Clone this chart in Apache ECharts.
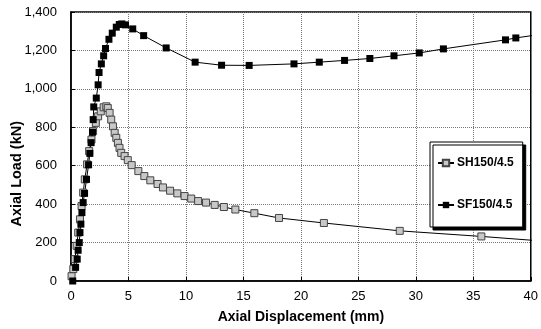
<!DOCTYPE html>
<html>
<head>
<meta charset="utf-8">
<script src="https://cdn.jsdelivr.net/npm/echarts@6/dist/echarts.min.js"></script>
<style>
html,body{margin:0;padding:0;background:#fff;}
#c{width:541px;height:329px;}
</style>
</head>
<body>
<div id="c"></div>
<script>
// Axial displacement (mm), axial load (kN)
var shDisp = [0.05,0.2,0.34,0.49,0.63,0.78,0.92,1.06,1.2,1.4,1.58,1.78,1.92,2.16,2.36,2.59,2.84,3.07,3.2,3.36,3.5,3.65,3.8,3.94,4.08,4.22,4.37,4.66,4.94,5.28,5.86,6.38,6.9,7.53,8.0,8.62,9.25,9.88,10.46,11.06,11.75,12.5,13.3,14.3,15.95,18.1,22.0,28.6,35.7,41];
var shLoad = [25,62,114,183,252,321,390,460,529,607,676,736,780,823,857,883,904,909,900,875,840,805,771,745,719,693,667,650,629,603,572,546,524,505,487,470,456,442,429,416,408,396,385,372,353,328,302,261,232,208];
var sfDisp = [0.15,0.4,0.54,0.62,0.72,0.78,0.86,0.95,1.06,1.18,1.35,1.53,1.64,1.75,1.87,1.93,1.98,2.2,2.36,2.44,2.64,2.84,3.0,3.3,3.59,3.94,4.2,4.42,4.74,5.37,6.32,8.28,10.8,13.1,15.5,19.4,21.6,23.8,26.0,28.1,30.3,32.4,37.8,38.7,41];
var sfLoad = [0,71,114,160,200,252,296,356,408,456,529,605,664,720,774,840,906,952,1021,1085,1130,1172,1210,1258,1290,1321,1335,1338,1333,1312,1277,1213,1139,1123,1122,1130,1139,1148,1158,1172,1187,1208,1255,1265,1285];
var seriesNames = ['SH150/4.5','SF150/4.5'];
var xTicks = {min:0,max:40,interval:5};
var yTicks = {min:0,max:1400,interval:200};

function zip(a,b){return a.map(function(v,i){return [v,b[i]];});}

var chart = echarts.init(document.getElementById('c'), null, {renderer:'canvas'});
var font = 'Arial, "Liberation Sans", sans-serif';
chart.setOption({
  animation:false,
  backgroundColor:'#fff',
  grid:{left:71,right:6,top:12,bottom:47,show:true,borderColor:'#000',borderWidth:1.5,backgroundColor:'transparent'},
  xAxis:{
    type:'value',min:xTicks.min,max:xTicks.max,interval:xTicks.interval,
    name:'Axial Displacement (mm)',nameLocation:'middle',nameGap:29,
    nameTextStyle:{fontFamily:font,fontWeight:'bold',fontSize:14,color:'#000'},
    axisLine:{show:true,lineStyle:{color:'#000',width:1.5}},
    axisTick:{show:true,inside:true,length:4,lineStyle:{color:'#000',width:1}},
    axisLabel:{fontFamily:font,fontSize:13,color:'#000',margin:9},
    splitLine:{show:true,lineStyle:{color:'#777',type:[1,1],width:1}}
  },
  yAxis:{
    type:'value',min:yTicks.min,max:yTicks.max,interval:yTicks.interval,
    axisLine:{show:true,lineStyle:{color:'#000',width:1.5}},
    axisTick:{show:true,inside:true,length:4,lineStyle:{color:'#000',width:1}},
    axisLabel:{fontFamily:font,fontSize:13,color:'#000',margin:14,
      formatter:function(v){return v.toLocaleString('en-US');}},
    splitLine:{show:true,lineStyle:{color:'#777',type:[1,1],width:1}}
  },
  graphic:[{
    type:'text',left:9,top:121,rotation:Math.PI/2,
    style:{text:'Axial Load (kN)',font:'bold 14.5px '+font,fill:'#000'}
  }],
  legend:{
    orient:'vertical',left:430,top:142,
    data:seriesNames,
    itemWidth:16,itemHeight:8,itemGap:30,
    padding:[15,9,16,7],
    backgroundColor:'#fff',borderColor:'#000',borderWidth:1,
    shadowColor:'#000',shadowOffsetX:3,shadowOffsetY:3,shadowBlur:0,
    textStyle:{fontFamily:font,fontWeight:'bold',fontSize:12,color:'#000',padding:[0,0,0,-2]}
  },
  series:[
    {name:seriesNames[0],type:'line',data:zip(shDisp,shLoad),clip:true,
     symbol:'rect',symbolSize:7,
     itemStyle:{color:'#c8c8c8',borderColor:'#444',borderWidth:1},
     lineStyle:{color:'#000',width:1}},
    {name:seriesNames[1],type:'line',data:zip(sfDisp,sfLoad),clip:true,
     symbol:'rect',symbolSize:7,
     itemStyle:{color:'#000',borderColor:'#000',borderWidth:0},
     lineStyle:{color:'#000',width:1}}
  ]
});
</script>
</body>
</html>
